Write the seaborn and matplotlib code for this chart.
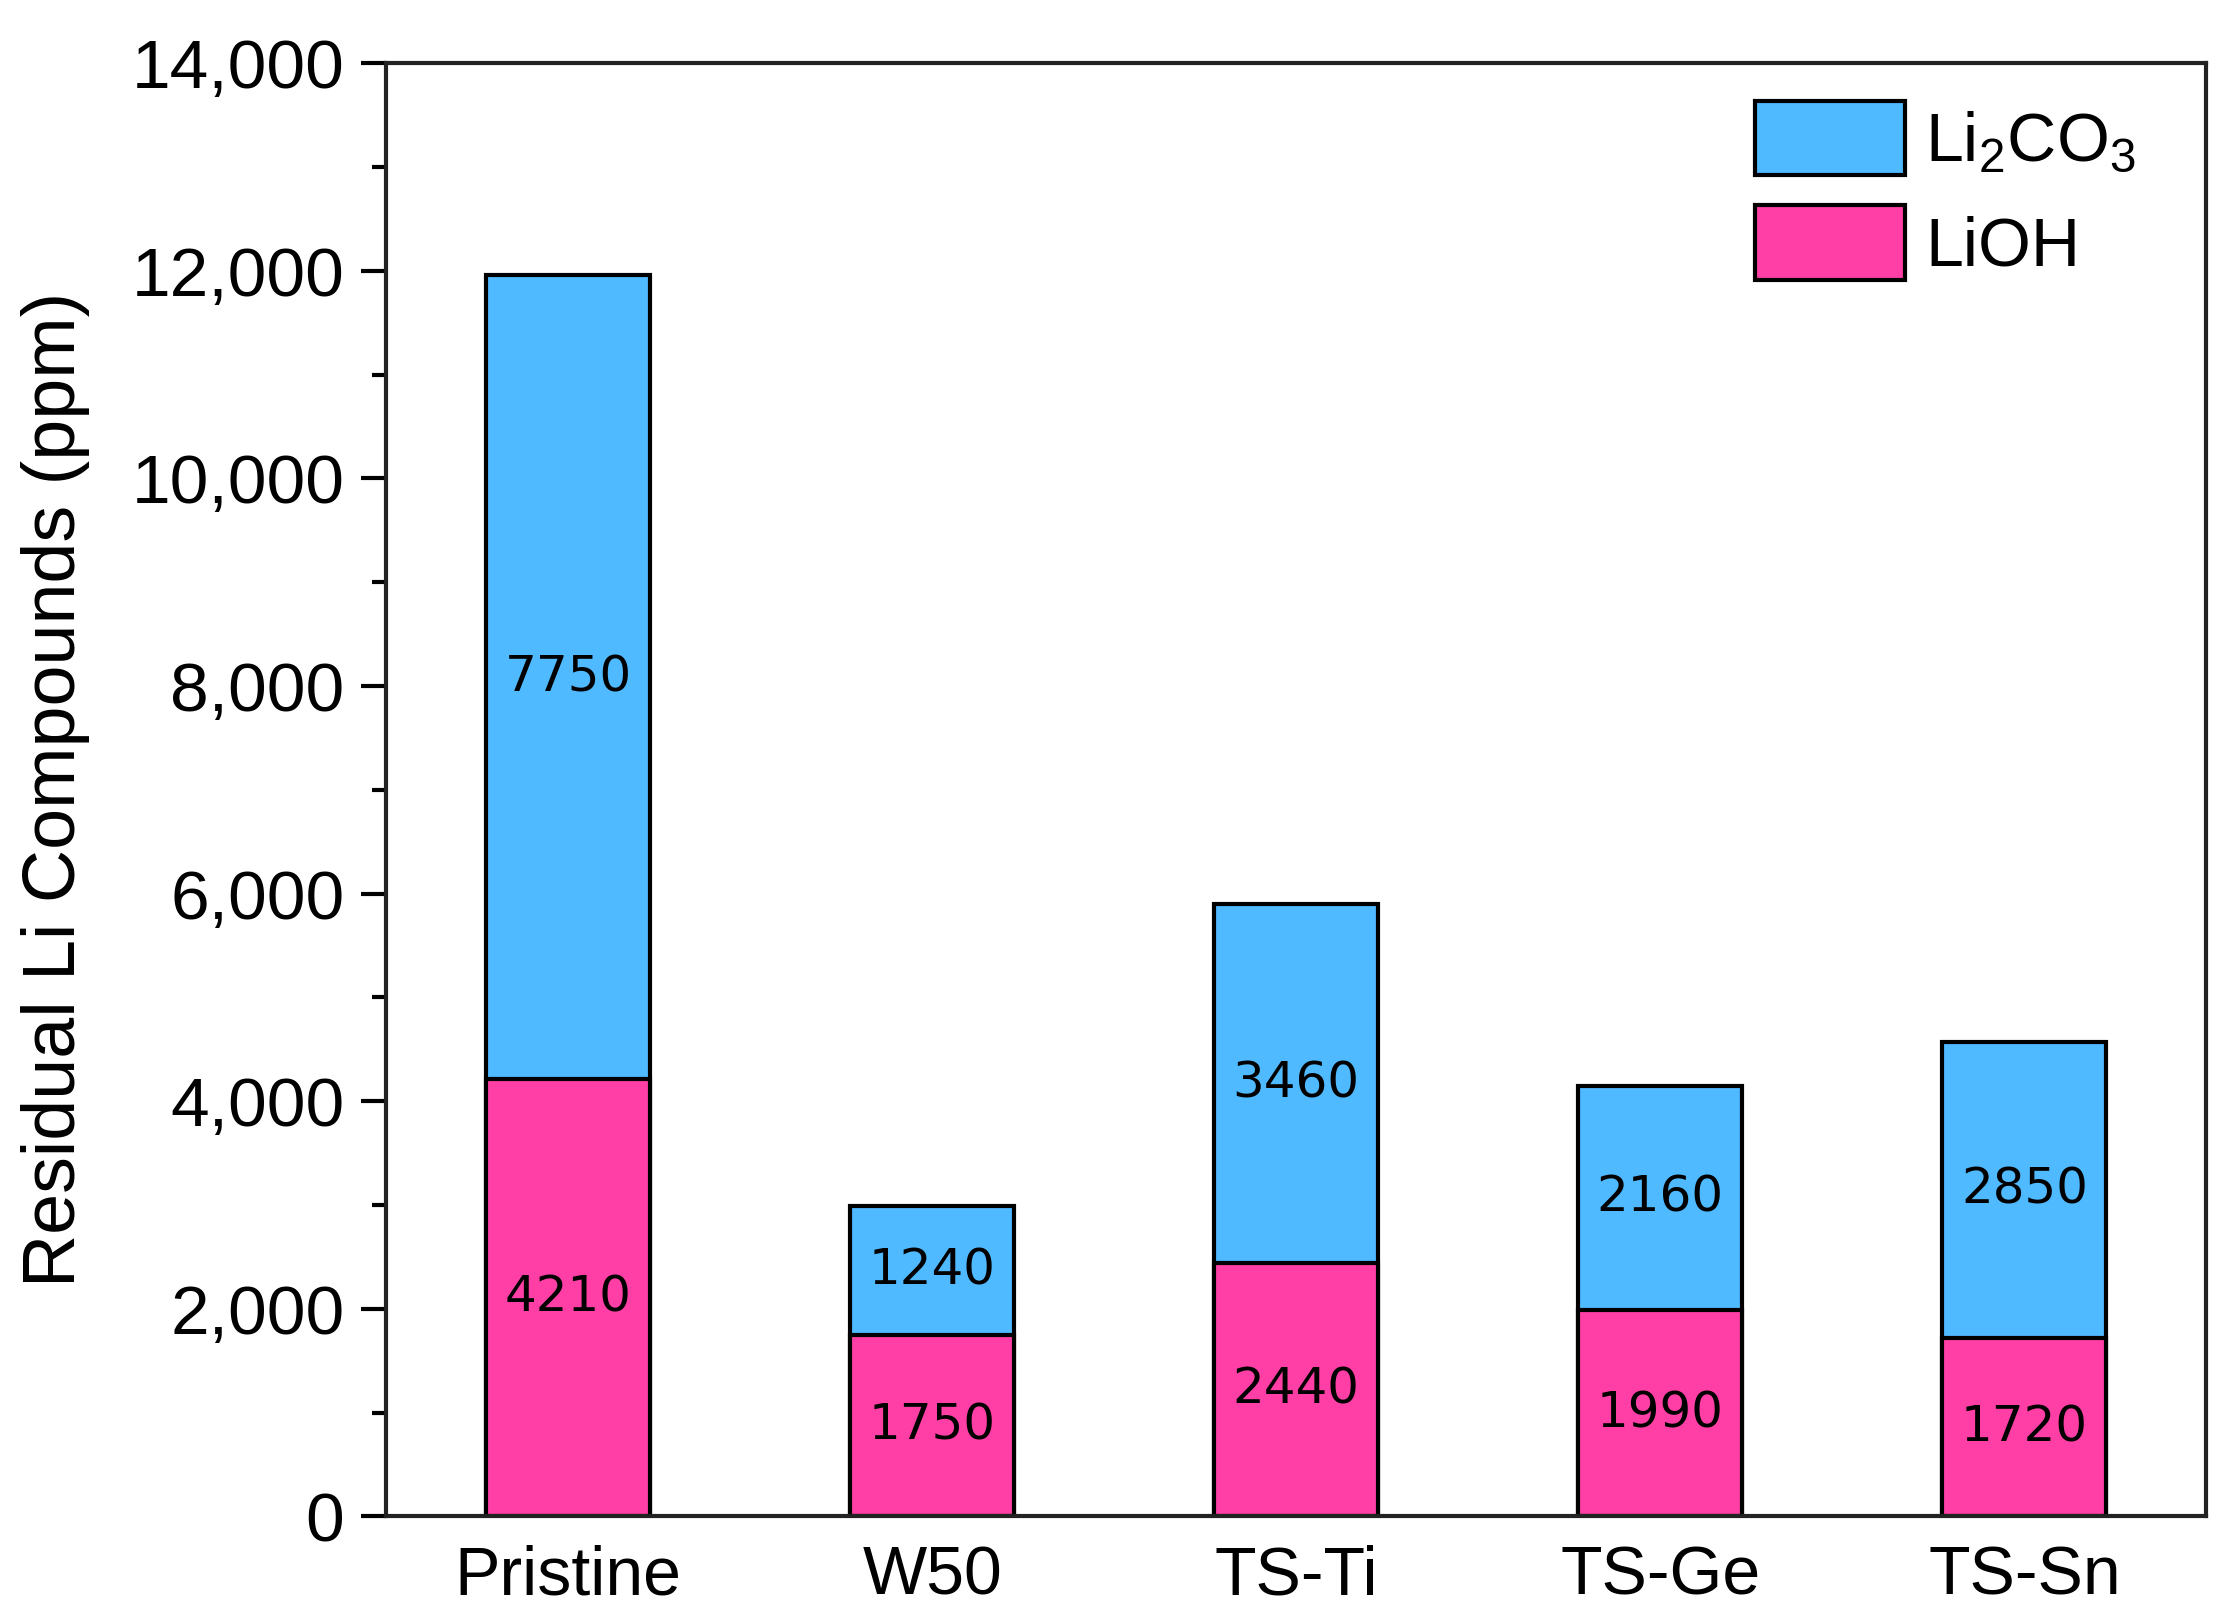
import numpy as np
import pandas as pd
import seaborn as sns
import matplotlib.pyplot as plt
from matplotlib.ticker import FuncFormatter, MultipleLocator

# data
samples = ['Pristine', 'W50', 'TS-Ti', 'TS-Ge', 'TS-Sn']
lioh = [4210, 1750, 2440, 1990, 1720]
li2co3 = [7750, 1240, 3460, 2160, 2850]

blue = '#4FBAFF'
pink = '#FF3FA6'

sns.set_style('ticks')
plt.rcParams['font.family'] = ['Liberation Sans', 'DejaVu Sans']
plt.rcParams['mathtext.fontset'] = 'custom'
plt.rcParams['mathtext.rm'] = 'Liberation Sans'
for k in ['text.color', 'axes.labelcolor', 'xtick.color', 'ytick.color']:
    plt.rcParams[k] = 'black'

df = pd.DataFrame({'sample': samples, 'LiOH': lioh, 'Li2CO3': li2co3})
df['total'] = df['LiOH'] + df['Li2CO3']

fig = plt.figure(figsize=(22.31, 16.2), dpi=100)
ax = fig.add_axes([0.173, 0.064, 0.816, 0.897])

# stacked bars: total drawn in blue, LiOH on top of it in pink
sns.barplot(data=df, x='sample', y='total', color=blue, saturation=1,
            width=0.45, edgecolor='black', linewidth=3, ax=ax,
            label=r'Li$_2$CO$_3$')
sns.barplot(data=df, x='sample', y='LiOH', color=pink, saturation=1,
            width=0.45, edgecolor='black', linewidth=3, ax=ax,
            label='LiOH')

# values inside the segments
for i in range(len(df)):
    ax.text(i, df['LiOH'][i] / 2, str(df['LiOH'][i]), ha='center', va='center',
            fontsize=36, family='DejaVu Sans', color='black')
    ax.text(i, df['LiOH'][i] + df['Li2CO3'][i] / 2, str(df['Li2CO3'][i]),
            ha='center', va='center', fontsize=36, family='DejaVu Sans',
            color='black')

ax.set_xlim(-0.5, 4.5)
ax.set_ylim(0, 14000)
ax.yaxis.set_major_locator(MultipleLocator(2000))
ax.yaxis.set_minor_locator(MultipleLocator(1000))
ax.yaxis.set_major_formatter(FuncFormatter(lambda v, p: '{:,.0f}'.format(v)))

ax.set_xlabel('')
ax.set_ylabel('Residual Li Compounds (ppm)', fontsize=53, labelpad=30)
ax.tick_params(axis='y', which='major', length=18, width=3, labelsize=50, pad=12, direction='out')
ax.tick_params(axis='y', which='minor', length=10, width=3, direction='out')
ax.tick_params(axis='x', length=0, labelsize=49, pad=20)

for s in ax.spines.values():
    s.set_visible(True)
    s.set_linewidth(3)
    s.set_color('#222222')

# legend: Li2CO3 first, then LiOH
h, l = ax.get_legend_handles_labels()
ax.legend(h, l, loc='upper right', bbox_to_anchor=(0.982, 1.0), frameon=False,
          fontsize=49, handlelength=2.2, handleheight=1.3, handletextpad=0.3,
          labelspacing=0.45, borderaxespad=0.15)

fig.savefig('out.png', dpi=100)
